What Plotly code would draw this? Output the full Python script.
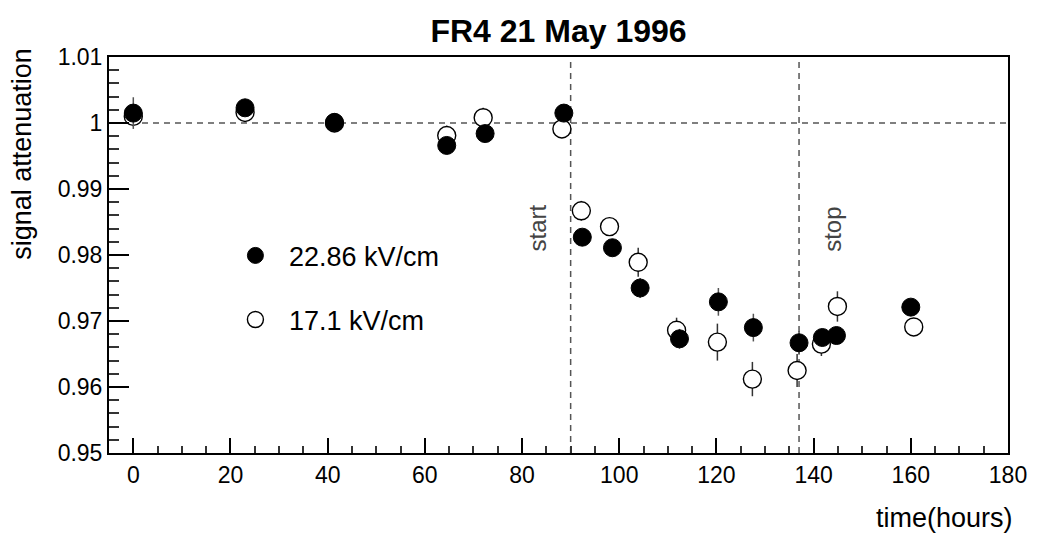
import plotly.graph_objects as go

# Measurement times (hours) and signal attenuation for the two field settings
time_hi = [0, 23, 41.4, 64.5, 72.4, 88.6, 92.4, 98.6, 104.3, 112.4, 120.4, 127.6, 137.0, 141.8, 144.7, 160.0]
att_hi = [1.0015, 1.0023, 1.0001, 0.9966, 0.9984, 1.0015, 0.9827, 0.9811, 0.9750, 0.9673,
          0.9729, 0.9690, 0.9667, 0.9675, 0.9678, 0.9721]
err_hi = [0.0024, 0.0010, 0.0012, 0.0010, 0.0010, 0.0010, 0.0010, 0.0013, 0.0015, 0.0015,
          0.0021, 0.0021, 0.0018, 0.0012, 0.0012, 0.0010]

time_lo = [0, 23, 41.4, 64.5, 72.0, 88.2, 92.2, 98.0, 103.9, 111.8, 120.2, 127.4, 136.6, 141.6, 144.9, 160.6]
att_lo = [1.0010, 1.0016, 1.0000, 0.9981, 1.0008, 0.9991, 0.9867, 0.9843, 0.9789, 0.9686,
          0.9668, 0.9612, 0.9625, 0.9665, 0.9722, 0.9691]
err_lo = [0.0015, 0.0010, 0.0010, 0.0015, 0.0015, 0.0010, 0.0015, 0.0010, 0.0022, 0.0019,
          0.0028, 0.0026, 0.0025, 0.0018, 0.0023, 0.0010]

label_hi = "22.86 kV/cm"
label_lo = "17.1 kV/cm"

# Reference levels: nominal attenuation and the start/stop of irradiation
ref_level = 1.0
t_start = 90
t_stop = 137

x_range = [-5, 180]
y_range = [0.95, 1.01]

FONT = "Liberation Sans, Arial, Helvetica, sans-serif"

fig = go.Figure()

fig.add_trace(go.Scatter(
    x=time_lo, y=att_lo, mode="markers", name=label_lo,
    legendgroup="lo", legendrank=2,
    marker=dict(symbol="circle", size=18, color="white", line=dict(color="black", width=1.4)),
    error_y=dict(type="data", array=err_lo, visible=True, color="#333", thickness=1.5, width=0),
))
fig.add_trace(go.Scatter(
    x=time_hi, y=att_hi, mode="markers", name=label_hi,
    legendgroup="hi", legendrank=1,
    marker=dict(symbol="circle", size=18, color="black", line=dict(color="black", width=1)),
    error_y=dict(type="data", array=err_hi, visible=True, color="#555", thickness=1.5, width=0),
))

dash_line = dict(color="#555", width=1.5, dash="6px,5px")
fig.add_shape(type="line", xref="paper", x0=0, x1=1, yref="y", y0=ref_level, y1=ref_level,
              line=dash_line, layer="below")
for t in (t_start, t_stop):
    fig.add_shape(type="line", xref="x", x0=t, x1=t, yref="paper", y0=0, y1=1,
                  line=dash_line, layer="below")

fig.add_annotation(x=83.2, y=0.9841, xref="x", yref="y", text="start", showarrow=False,
                   textangle=-90, font=dict(family=FONT, size=24, color="#444"))
fig.add_annotation(x=143.9, y=0.9839, xref="x", yref="y", text="stop", showarrow=False,
                   textangle=-90, font=dict(family=FONT, size=24, color="#444"))

# Axis titles placed ROOT-style (aligned to the axis end)
fig.add_annotation(x=-0.097, y=0.755, xref="paper", yref="paper", text="signal attenuation",
                   showarrow=False, textangle=-90, xanchor="center", yanchor="middle",
                   font=dict(family=FONT, size=27, color="black"))
fig.add_annotation(x=1.008, y=-0.164, xref="paper", yref="paper", text="time(hours)",
                   showarrow=False, xanchor="right", yanchor="middle",
                   font=dict(family=FONT, size=27, color="black"))

fig.update_layout(
    width=1039, height=536,
    margin=dict(l=109, r=22, t=57, b=83),
    paper_bgcolor="white", plot_bgcolor="white",
    title=dict(text="<b>FR4 21 May 1996</b>", x=0.5, xref="paper", xanchor="center",
               y=1 - 31 / 536, yref="container", yanchor="middle",
               font=dict(family=FONT, size=32, color="black")),
    font=dict(family=FONT, color="black"),
    showlegend=True,
    legend=dict(x=0.1256, y=0.417, xanchor="left", yanchor="middle", xref="paper", yref="paper",
                bgcolor="rgba(0,0,0,0)", borderwidth=0, font=dict(family=FONT, size=27),
                itemsizing="trace", itemwidth=57, tracegroupgap=26, traceorder="grouped"),
)

fig.update_xaxes(
    range=x_range, tick0=0, dtick=20, ticks="inside", ticklen=15, tickwidth=1.5, tickcolor="black",
    minor=dict(dtick=5, ticks="inside", ticklen=7, tickwidth=1.5, tickcolor="#333"),
    showline=True, linewidth=2, linecolor="black", mirror=True, showgrid=False, zeroline=False,
    tickfont=dict(family=FONT, size=23, color="black"),
)
fig.update_yaxes(
    range=y_range, tick0=0.95, dtick=0.01, ticks="inside", ticklen=20, tickwidth=1.5, tickcolor="black",
    minor=dict(dtick=0.002, ticks="inside", ticklen=10, tickwidth=1.5, tickcolor="#333"),
    showline=True, linewidth=2, linecolor="black", mirror=True, showgrid=False, zeroline=False,
    tickfont=dict(family=FONT, size=23, color="black"),
)

fig.write_html("out.html")
